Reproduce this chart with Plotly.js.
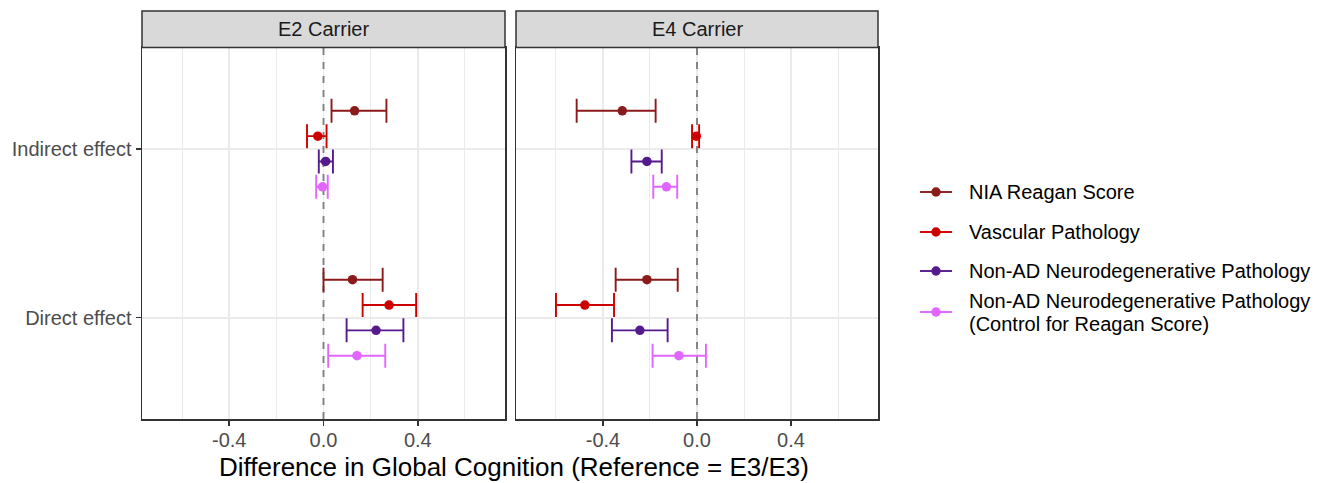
<!DOCTYPE html>
<html>
<head>
<meta charset="utf-8">
<script src="https://cdn.plot.ly/plotly-3.0.1.min.js"></script>
<style>html,body{margin:0;padding:0;background:#fff;}#chart{width:1331px;height:483px;}</style>
</head>
<body>
<div id="chart"></div>
<script>
// ---- data ----
const categories = ['Direct effect', 'Indirect effect'];
const panels = ['E2 Carrier', 'E4 Carrier'];
const series = ['NIA Reagan Score', 'Vascular Pathology', 'Non-AD Neurodegenerative Pathology',
                'Non-AD Neurodegenerative Pathology\n(Control for Reagan Score)'];
const xTickVals = [-0.4, 0, 0.4];
const xTickText = ['-0.4', '0.0', '0.4'];
const referenceX = 0;   // no-difference line

// per series: [Direct, Indirect]
const e2Est   = [[0.123, 0.132], [0.278, -0.024], [0.223, 0.009], [0.142, -0.004]];
const e2Lower = [[0.000, 0.034], [0.166, -0.070], [0.098, -0.020], [0.020, -0.031]];
const e2Upper = [[0.251, 0.267], [0.393, 0.013], [0.339, 0.040], [0.262, 0.018]];

const e4Est   = [[-0.213, -0.318], [-0.477, -0.003], [-0.243, -0.213], [-0.077, -0.130]];
const e4Lower = [[-0.346, -0.512], [-0.600, -0.021], [-0.362, -0.279], [-0.189, -0.186]];
const e4Upper = [[-0.082, -0.176], [-0.353, 0.009], [-0.125, -0.150], [0.038, -0.084]];

// ---- styles ----
const colors = ['#8B1A1A', '#CD0000', '#551A8B', '#E066FF'];
const FONT = 'Liberation Sans, Arial, sans-serif';
const W = 1331, H = 483;
const px = v => v / W, py = v => 1 - v / H;
const yRange = [0.4, 2.6];

const panelData = [
  {est: e2Est, lo: e2Lower, hi: e2Upper, xa: 'x', ya: 'y'},
  {est: e4Est, lo: e4Lower, hi: e4Upper, xa: 'x2', ya: 'y2'}
];

const traces = [];
panelData.forEach(p => {
  traces.push({
    type: 'scatter', mode: 'lines', xaxis: p.xa, yaxis: p.ya,
    x: [referenceX, referenceX], y: yRange, showlegend: false, hoverinfo: 'skip',
    line: {color: '#808080', width: 1.9, dash: '7px,7px'}
  });
  series.forEach((s, i) => {
    const off = 0.225 - 0.15 * i;
    const ys = categories.map((c, k) => (k + 1) + off);
    traces.push({
      type: 'scatter', mode: 'markers', xaxis: p.xa, yaxis: p.ya,
      x: p.est[i], y: ys, name: s.replace('\n', ' '), showlegend: false,
      marker: {color: colors[i], size: 9.5},
      error_x: {type: 'data', symmetric: false,
        array: p.est[i].map((v, k) => p.hi[i][k] - v),
        arrayminus: p.est[i].map((v, k) => v - p.lo[i][k]),
        color: colors[i], thickness: 1.9, width: 12},
      hoverinfo: 'x+name'
    });
  });
});

function xAxis(domain, anchor) {
  return {
    domain: domain, anchor: anchor, range: [-0.77, 0.77],
    tickmode: 'array', tickvals: xTickVals, ticktext: xTickText,
    ticks: 'outside', ticklen: 5, tickwidth: 1.5, tickcolor: '#333333',
    ticklabelstandoff: -3,
    tickfont: {family: FONT, size: 20, color: '#4D4D4D'},
    showgrid: true, gridcolor: '#EBEBEB', gridwidth: 1.8,
    minor: {tickmode: 'array', tickvals: [-0.6, -0.2, 0.2, 0.6], showgrid: true, gridcolor: '#EBEBEB', gridwidth: 1, ticks: ''},
    zeroline: false, showline: true, mirror: true, linecolor: '#333333', linewidth: 1.5,
    fixedrange: true
  };
}
function yAxis(anchor, labels) {
  return {
    domain: [py(419), py(47.5)], anchor: anchor, range: yRange,
    tickmode: 'array', tickvals: [1, 2], ticktext: categories, showticklabels: labels,
    ticks: labels ? 'outside' : '', ticklen: 5, tickwidth: 1.5, tickcolor: '#333333',
    tickfont: {family: FONT, size: 20, color: '#4D4D4D'},
    showgrid: true, gridcolor: '#EBEBEB', gridwidth: 1.8,
    zeroline: false, showline: true, mirror: true, linecolor: '#333333', linewidth: 1.5,
    fixedrange: true
  };
}

const stripX = [[142, 505], [516, 878]];
const shapes = [];
const annotations = [];
panelData.forEach((p, k) => {
  shapes.push({type: 'rect', xref: 'paper', yref: 'paper',
    x0: px(stripX[k][0]), x1: px(stripX[k][1]), y0: py(47.5), y1: py(11),
    fillcolor: '#D9D9D9', line: {color: '#333333', width: 1.5}, layer: 'above'});
  annotations.push({xref: 'paper', yref: 'paper', x: px((stripX[k][0] + stripX[k][1]) / 2), y: py(29),
    text: panels[k], showarrow: false, xanchor: 'center', yanchor: 'middle',
    font: {family: FONT, size: 20, color: '#1A1A1A'}});
});
annotations.push({xref: 'paper', yref: 'paper', x: px(514), y: py(467),
  text: 'Difference in Global Cognition (Reference = E3/E3)', showarrow: false,
  xanchor: 'center', yanchor: 'middle', font: {family: FONT, size: 26, color: '#000000'}});

// ---- legend (drawn with shapes + annotations) ----
const legendKeyY = [192, 232, 271, 312];
series.forEach((s, i) => {
  const yc = legendKeyY[i];
  shapes.push({type: 'line', xref: 'paper', yref: 'paper', x0: px(920), x1: px(952), y0: py(yc), y1: py(yc),
    line: {color: colors[i], width: 1.9}});
  shapes.push({type: 'circle', xref: 'paper', yref: 'paper', x0: px(936 - 4.7), x1: px(936 + 4.7),
    y0: py(yc + 4.7), y1: py(yc - 4.7), fillcolor: colors[i], line: {width: 0}});
  const lines = s.split('\n');
  lines.forEach((t, j) => {
    const ty = yc - (lines.length - 1) * 11.5 + j * 23;
    annotations.push({xref: 'paper', yref: 'paper', x: px(967), y: py(ty), text: t, showarrow: false,
      xanchor: 'left', yanchor: 'middle', font: {family: FONT, size: 20, color: '#000000'}});
  });
});

const layout = {
  width: W, height: H, margin: {l: 0, r: 0, t: 0, b: 0},
  paper_bgcolor: '#FFFFFF', plot_bgcolor: '#FFFFFF',
  font: {family: FONT},
  xaxis: xAxis([px(142), px(505)], 'y'),
  xaxis2: xAxis([px(516), px(878)], 'y2'),
  yaxis: yAxis('x', true),
  yaxis2: Object.assign(yAxis('x2', false), {matches: 'y'}),
  shapes: shapes, annotations: annotations,
  showlegend: false
};

Plotly.newPlot('chart', traces, layout, {displayModeBar: false, staticPlot: true});
</script>
</body>
</html>
